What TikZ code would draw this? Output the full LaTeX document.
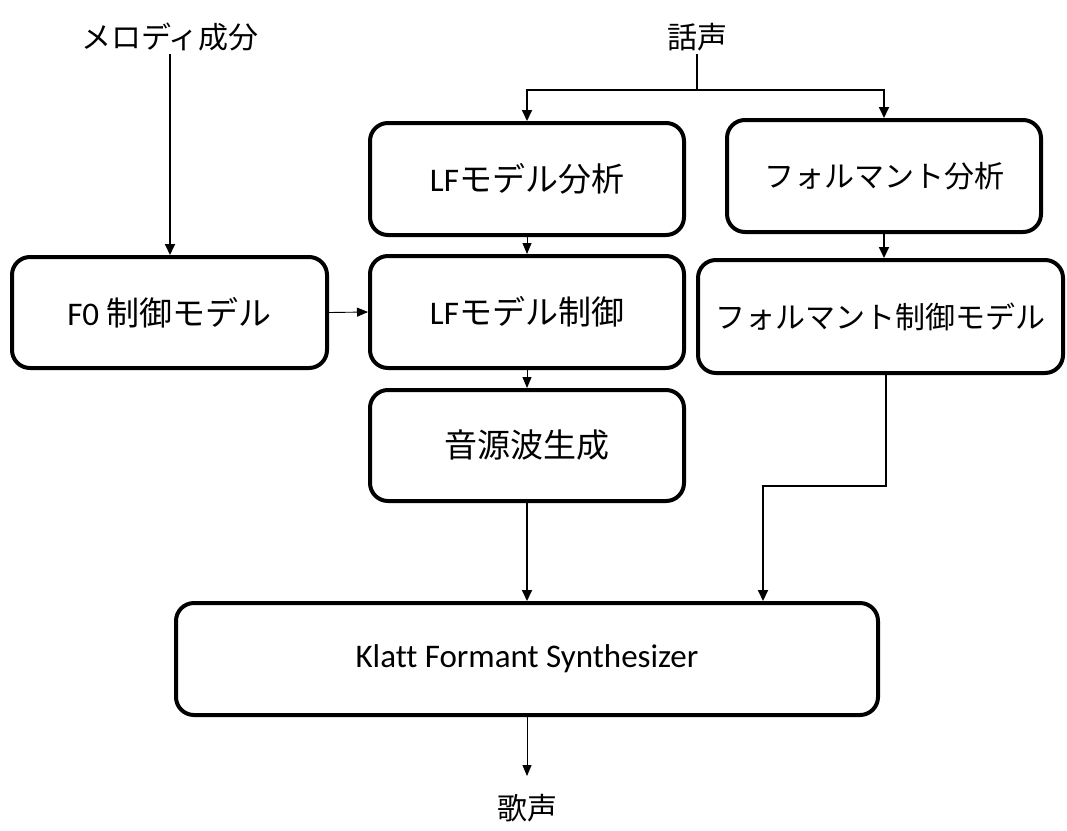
\documentclass[tikz,border=0pt]{standalone}
\usepackage{fontspec}
\setmainfont{Carlito}[Ligatures={NoCommon}]
\newfontfamily\cjk{Noto Sans CJK JP}
\usetikzlibrary{arrows.meta}
\tikzset{
  x=1pt,y=-1pt,
  box/.style={draw=black,line width=4pt,rounded corners=18pt,fill=white,
    align=center,inner sep=0pt,font=\fontsize{33}{37}\selectfont},
  lbl/.style={inner sep=0pt,font=\cjk\fontsize{30}{34}\selectfont},
  thickarr/.style={line width=1.8pt,-{Triangle[length=11pt,width=10pt]}},
  thinarr/.style={line width=0.9pt,-{Triangle[length=11pt,width=9pt]}},
  thickline/.style={line width=1.8pt}
}
\begin{document}
\begin{tikzpicture}
\useasboundingbox (0,0) rectangle (1067,830);
\fill[white] (0,0) rectangle (1067,830);

\node[lbl] (mel) at (170,37) {メロディ成分};
\node[lbl] (speech) at (697,37) {話声};
\node[lbl] (sing) at (527,808) {歌声};

\node[box,minimum width=314pt,minimum height=112pt] (lfa) at (527,179) {LF{\cjk モデル分析}};
\node[box,minimum width=314pt,minimum height=112pt] (fa) at (884,176) {\cjk\fontsize{30}{34}\selectfont フォルマント分析};
\node[box,minimum width=315pt,minimum height=111pt] (f0) at (169.5,312.5) {F0 {\cjk 制御モデル}};
\node[box,minimum width=314pt,minimum height=112pt] (lfc) at (527,312) {LF{\cjk モデル制御}};
\node[box,minimum width=365pt,minimum height=113pt] (fc) at (880.5,316.5) {\cjk\fontsize{30}{34}\selectfont フォルマント制御モデル};
\node[box,minimum width=314pt,minimum height=111pt] (src) at (527,445.5) {\cjk 音源波生成};
\node[box,minimum width=702pt,minimum height=112pt] (kl) at (527,659) {Klatt Formant Synthesizer};

\coordinate (j) at (697,90);
\coordinate (s1) at (886,486);
\coordinate (s2) at (763,486);
\coordinate (tip) at (527,776);

\draw[thickarr] ([yshift=-3pt]mel.south) -- (mel.south |- f0.north);
\draw[thickline] ([yshift=-3pt]speech.south) -- (j);
\draw[thickarr] (j) -| (lfa.north);
\draw[thickarr] (j) -| (fa.north);
\draw[thinarr] (lfa.south) -- (lfc.north);
\draw[thickarr] (fa.south) -- (fa.south |- fc.north);
\draw[thinarr] (f0.east) -- (lfc.west);
\draw[thinarr] (lfc.south) -- (src.north);
\draw[thickarr] (src.south) -- (kl.north);
\draw[thickarr] (fc.south -| s1) -- (s1) -- (s2) -- (s2 |- kl.north);
\draw[thinarr] (kl.south) -- (tip);
\end{tikzpicture}
\end{document}
